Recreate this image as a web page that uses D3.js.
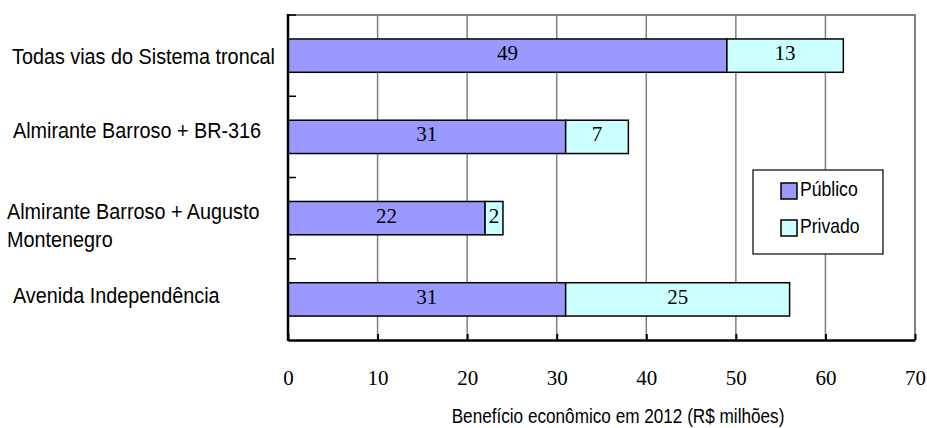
<!DOCTYPE html>
<html>
<head>
<meta charset="utf-8">
<script src="https://cdn.jsdelivr.net/npm/d3@7/dist/d3.min.js"></script>
<style>
  html, body { margin: 0; padding: 0; background: #fff; }
  svg { display: block; }
</style>
</head>
<body>
<svg id="chart" width="927" height="428"></svg>
<script>
// Economic benefit per corridor, split into public and private shares (R$ millions)
const categories = [
  ["Todas vias do Sistema troncal"],
  ["Almirante Barroso + BR-316"],
  ["Almirante Barroso + Augusto", "Montenegro"],
  ["Avenida Independência"]
];
const publico = [49, 31, 22, 31];
const privado = [13, 7, 2, 25];
const xTicks = [0, 10, 20, 30, 40, 50, 60, 70];
const seriesNames = ["Público", "Privado"];
const seriesColors = ["#9999ff", "#ccffff"];
const axisTitle = "Benefício econômico em 2012 (R$ milhões)";

const svg = d3.select("#chart");
const plotLeft = 288, plotRight = 915, plotTop = 15, plotBottom = 340;

const x = d3.scaleLinear().domain([0, 70]).range([plotLeft, plotRight]);
const y = d3.scaleBand()
  .domain(d3.range(categories.length))
  .range([plotTop, plotBottom])
  .paddingInner(0.59)
  .paddingOuter(0.295);

const sansFont = "'Liberation Sans', Arial, sans-serif";
const serifFont = "'Liberation Serif', 'Times New Roman', serif";

// vertical grid lines
svg.append("g").selectAll("line")
  .data(xTicks.slice(1, -1))
  .join("line")
  .attr("x1", d => x(d)).attr("x2", d => x(d))
  .attr("y1", plotTop).attr("y2", plotBottom)
  .attr("stroke", "#808080").attr("stroke-width", 1.5);

// top and right frame
svg.append("path")
  .attr("d", `M${plotLeft},${plotTop}H${plotRight}V${plotBottom}`)
  .attr("fill", "none").attr("stroke", "#808080").attr("stroke-width", 2);

// stacked bars
const rows = categories.map((c, i) => ({ i, pub: publico[i], priv: privado[i] }));
const barG = svg.append("g");
rows.forEach(r => {
  const segs = [
    { x0: 0, x1: r.pub, v: r.pub, c: seriesColors[0] },
    { x0: r.pub, x1: r.pub + r.priv, v: r.priv, c: seriesColors[1] }
  ];
  segs.forEach(s => {
    barG.append("rect")
      .attr("x", x(s.x0)).attr("y", y(r.i))
      .attr("width", x(s.x1) - x(s.x0)).attr("height", y.bandwidth())
      .attr("fill", s.c).attr("stroke", "#000").attr("stroke-width", 1.5);
    barG.append("text")
      .attr("x", (x(s.x0) + x(s.x1)) / 2)
      .attr("y", y(r.i) + y.bandwidth() / 2 + 4.5)
      .attr("text-anchor", "middle")
      .attr("font-family", serifFont).attr("font-size", 21)
      .attr("fill", "#000")
      .text(s.v);
  });
});

// bottom axis with inward ticks
const xAxis = svg.append("g").attr("transform", `translate(0,${plotBottom})`)
  .call(d3.axisBottom(x).tickValues(xTicks).tickSizeInner(-6).tickSizeOuter(0).tickFormat(d3.format("d")));
xAxis.select(".domain").attr("stroke", "#000").attr("stroke-width", 2.5);
xAxis.selectAll(".tick line").attr("stroke", "#000").attr("stroke-width", 2);
xAxis.selectAll(".tick text")
  .attr("font-family", serifFont).attr("font-size", 21).attr("fill", "#000")
  .attr("dy", null).attr("y", 45);

// left axis: line with inward ticks at band boundaries
const boundaries = d3.range(categories.length).map(i => y(i) - y.step() * y.paddingInner() / 2);
svg.append("g").selectAll("line")
  .data(boundaries)
  .join("line")
  .attr("x1", plotLeft).attr("x2", plotLeft + 8)
  .attr("y1", d => d).attr("y2", d => d)
  .attr("stroke", "#000").attr("stroke-width", 1.5);
svg.append("line")
  .attr("x1", plotLeft).attr("x2", plotLeft)
  .attr("y1", plotTop - 1).attr("y2", plotBottom + 1)
  .attr("stroke", "#000").attr("stroke-width", 2.5);

// category labels (condensed sans)
const labelG = svg.append("g");
const labelBase = [64, 138, 219, 247, 303];
const labelX = [12, 13, 7, 7, 13];
let k = 0;
categories.forEach((lines) => {
  lines.forEach((ln) => {
    labelG.append("text")
      .attr("class", "cat")
      .attr("data-x", labelX[k])
      .attr("data-y", labelBase[k])
      .attr("font-family", sansFont).attr("font-size", 22.5)
      .attr("fill", "#000")
      .text(ln);
    k++;
  });
});
// squeeze horizontally so the first label spans its column
const w0 = labelG.select("text.cat").node().getComputedTextLength();
const sx = 263 / w0;
labelG.selectAll("text.cat").each(function () {
  const t = d3.select(this);
  t.attr("transform", `translate(${+t.attr("data-x")},${+t.attr("data-y")}) scale(${sx},1)`);
});

// axis title
const title = svg.append("text")
  .attr("text-anchor", "middle")
  .attr("font-family", sansFont).attr("font-size", 20.5)
  .attr("fill", "#000")
  .text(axisTitle);
const tsx = 333 / title.node().getComputedTextLength();
title.attr("transform", `translate(618,423) scale(${tsx},1)`);

// legend
const lg = svg.append("g");
lg.append("rect")
  .attr("x", 753).attr("y", 170).attr("width", 130).attr("height", 84)
  .attr("fill", "#fff").attr("stroke", "#000").attr("stroke-width", 1.2);
seriesNames.forEach((n, i) => {
  const yy = 183 + i * 37;
  lg.append("rect")
    .attr("x", 781).attr("y", yy).attr("width", 16).attr("height", 16)
    .attr("fill", seriesColors[i]).attr("stroke", "#000").attr("stroke-width", 1.5);
  lg.append("text")
    .attr("transform", `translate(800,${yy + 13}) scale(${sx},1)`)
    .attr("font-family", sansFont).attr("font-size", 20)
    .attr("fill", "#000")
    .text(n);
});
</script>
</body>
</html>
